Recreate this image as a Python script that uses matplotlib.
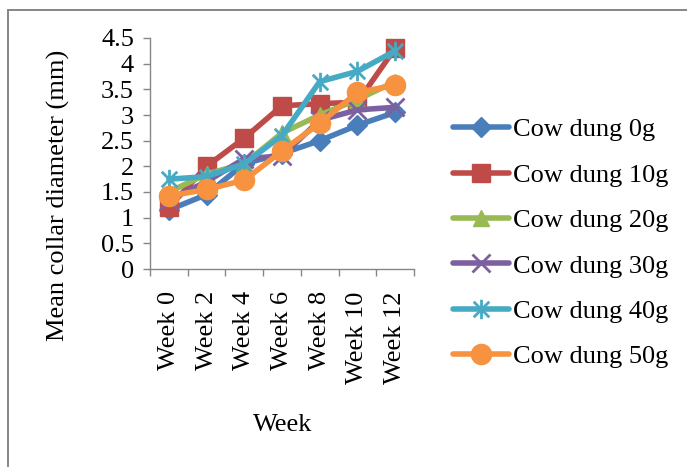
import matplotlib
matplotlib.use("Agg")
import matplotlib.pyplot as plt
from matplotlib.path import Path
from matplotlib.lines import Line2D

weeks = ["Week 0", "Week 2", "Week 4", "Week 6", "Week 8", "Week 10", "Week 12"]
series_names = ["Cow dung 0g", "Cow dung 10g", "Cow dung 20g",
                "Cow dung 30g", "Cow dung 40g", "Cow dung 50g"]
dung_0g = [1.15, 1.45, 2.05, 2.25, 2.5, 2.8, 3.05]
dung_10g = [1.2, 2.0, 2.55, 3.18, 3.22, 3.25, 4.3]
dung_20g = [1.5, 1.85, 2.05, 2.65, 3.0, 3.3, 3.65]
dung_30g = [1.35, 1.7, 2.15, 2.2, 2.9, 3.1, 3.15]
dung_40g = [1.75, 1.8, 2.05, 2.6, 3.65, 3.85, 4.25]
dung_50g = [1.42, 1.55, 1.73, 2.3, 2.84, 3.44, 3.58]
y_ticks = [0, 0.5, 1, 1.5, 2, 2.5, 3, 3.5, 4, 4.5]
y_tick_labels = ["0", "0.5", "1", "1.5", "2", "2.5", "3", "3.5", "4", "4.5"]

# asterisk: an x with a vertical bar through it
star = Path(
    [(-1, -1), (1, 1), (-1, 1), (1, -1), (0, -1.25), (0, 1.25)],
    [Path.MOVETO, Path.LINETO, Path.MOVETO, Path.LINETO, Path.MOVETO, Path.LINETO],
)

styles = [
    dict(color="#4A7EBB", marker="D", markersize=10.5),
    dict(color="#BE4B48", marker="s", markersize=13.5),
    dict(color="#98B954", marker="^", markersize=12),
    dict(color="#7D60A0", marker="x", markersize=13, markeredgewidth=2),
    dict(color="#46AAC5", marker=star, markersize=14, markeredgewidth=2),
    dict(color="#F69240", marker="o", markersize=14.5),
]
values = [dung_0g, dung_10g, dung_20g, dung_30g, dung_40g, dung_50g]

plt.rcParams["font.family"] = ["Liberation Serif", "DejaVu Serif"]
FS = 19

W, H = 687, 467
fig = plt.figure(figsize=(W / 100, H / 100), dpi=100)
ax = fig.add_axes([150 / W, 1 - 269 / H, 264 / W, 231 / H])

x = list(range(len(weeks)))
for name, vals, st in zip(series_names, values, styles):
    ax.plot(x, vals, label=name, linewidth=4, solid_capstyle="round", **st)

ax.set_xlim(-0.5, len(weeks) - 0.5)
ax.set_ylim(0, 4.5)
ax.set_yticks(y_ticks)
ax.set_yticklabels(y_tick_labels)
ax.set_xticks(x)
ax.set_xticklabels(weeks, rotation=90, va="top")
ax.set_xticks([i - 0.5 for i in range(len(weeks) + 1)], minor=True)
ax.tick_params(axis="x", which="major", length=0, pad=16, labelsize=FS)
ax.tick_params(axis="x", which="minor", length=5, color="#868686", width=1)
ax.tick_params(axis="y", length=5, color="#868686", width=1, labelsize=FS, pad=6.5)
for side in ("top", "right"):
    ax.spines[side].set_visible(False)
for side in ("left", "bottom"):
    ax.spines[side].set_color("#868686")
    ax.spines[side].set_linewidth(1)

fig.text(58 / W, 1 - 195 / H, "Mean collar diameter (mm)", rotation=90,
         ha="center", va="center", fontsize=FS)
fig.text(283 / W, 1 - 425 / H, "Week", ha="center", va="center", fontsize=FS)

leg = ax.legend(loc="upper left", bbox_to_anchor=(453 / W, 1 - 118 / H),
                bbox_transform=fig.transFigure, frameon=False, fontsize=FS,
                handlelength=2.12, handletextpad=0.15, labelspacing=0.83,
                borderaxespad=0, borderpad=0, markerscale=1)

# outer chart frame
fig.add_artist(Line2D([8 / W, 8 / W], [0, 1 - 9.5 / H],
                      transform=fig.transFigure, color="#868686", linewidth=1.4))
fig.add_artist(Line2D([8 / W, 1], [1 - 9.5 / H, 1 - 9.5 / H],
                      transform=fig.transFigure, color="#868686", linewidth=1.4))

fig.savefig("out.png", dpi=100)
